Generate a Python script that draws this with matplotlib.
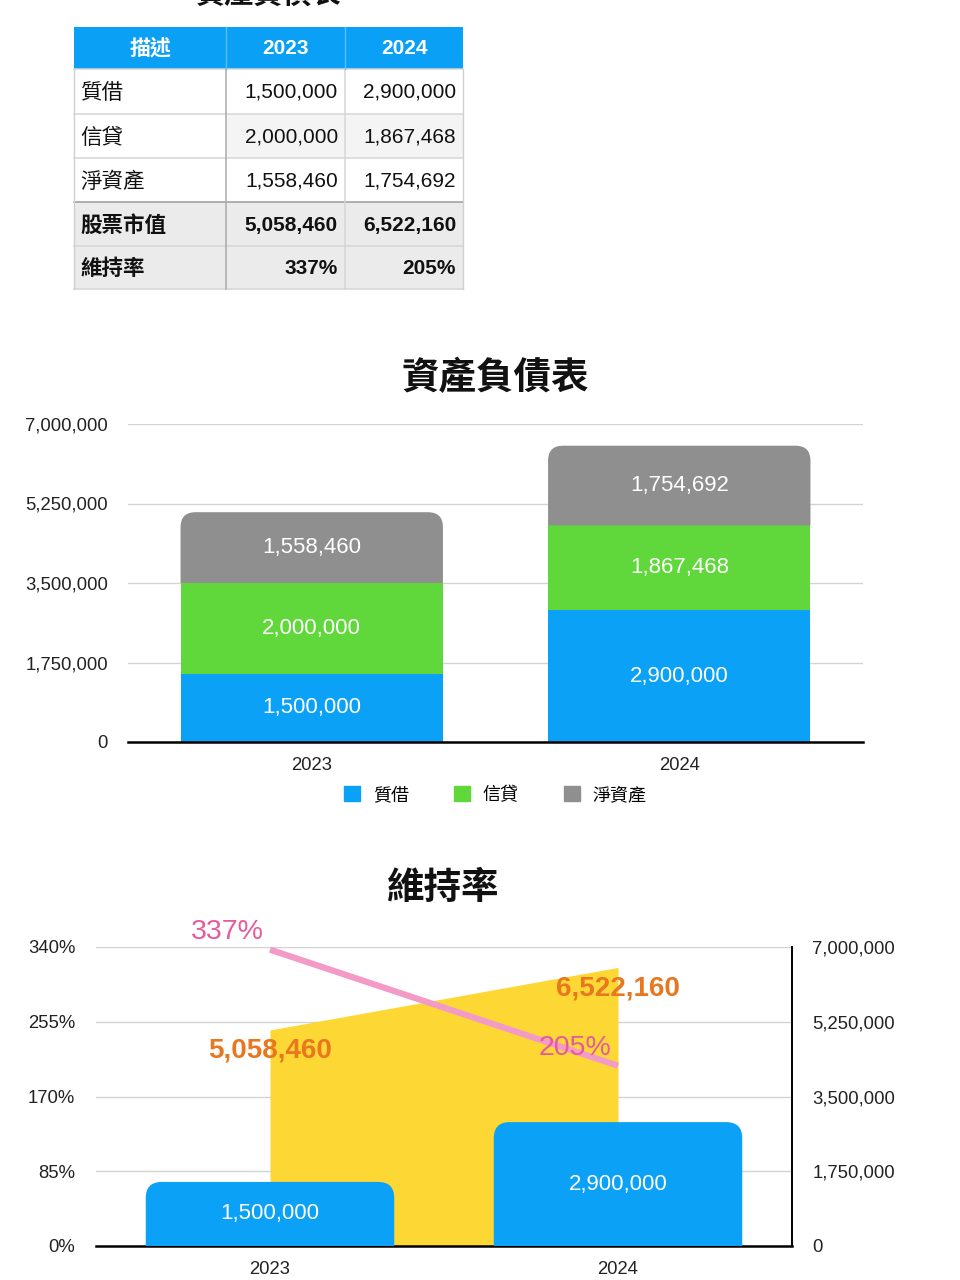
import matplotlib
matplotlib.use('Agg')
import matplotlib.pyplot as plt
from matplotlib.path import Path
from matplotlib.patches import PathPatch, Rectangle, Patch
from matplotlib.ticker import FuncFormatter, FixedLocator

plt.rcParams['font.family'] = ['Liberation Sans', 'Noto Sans CJK TC', 'DejaVu Sans']

# ---------------- data ----------------
years = ['2023', '2024']
pledge = [1500000, 2900000]          # 質借
credit = [2000000, 1867468]          # 信貸
net_assets = [1558460, 1754692]      # 淨資產
market_value = [5058460, 6522160]    # 股票市值
maint_ratio = [337, 205]             # 維持率 (%)
series_names = ['質借', '信貸', '淨資產']
table_header = ['描述', '2023', '2024']
table_labels = ['質借', '信貸', '淨資產', '股票市值', '維持率']
money_ticks = [0, 1750000, 3500000, 5250000, 7000000]
pct_ticks = [0, 85, 170, 255, 340]
chart1_title = '資產負債表'
chart2_title = '維持率'

# ---------------- style ----------------
BLUE = '#0aa1f7'
GREEN = '#60d83b'
GRAY = '#8f8f8f'
YELLOW = '#fdd835'
PINK_LINE = '#f49ac6'
PINK_TXT = '#e65a9e'
ORANGE = '#e8771f'
HDR = '#0aa0f5'
GRID = '#d3d3d3'
TICK = '#222222'

W, H = 960, 1280
fig = plt.figure(figsize=(9.6, 12.8), dpi=100)
fig.patch.set_facecolor('white')


def fig_rect(l, t, r, b):
    return [l / W, 1 - b / H, (r - l) / W, (b - t) / H]


def rounded_bar(ax, xc, width, bottom, height, color, r_px=15, zorder=3):
    p0 = ax.transData.transform((0, 0))
    p1 = ax.transData.transform((1, 1))
    rx = r_px / (p1[0] - p0[0])
    ry = r_px / (p1[1] - p0[1])
    x0, x1 = xc - width / 2, xc + width / 2
    y0, y1 = bottom, bottom + height
    verts = [(x0, y0), (x1, y0), (x1, y1 - ry), (x1, y1), (x1 - rx, y1),
             (x0 + rx, y1), (x0, y1), (x0, y1 - ry), (x0, y0)]
    codes = [Path.MOVETO, Path.LINETO, Path.LINETO, Path.CURVE3, Path.CURVE3,
             Path.LINETO, Path.CURVE3, Path.CURVE3, Path.CLOSEPOLY]
    ax.add_patch(PathPatch(Path(verts, codes), facecolor=color,
                           edgecolor='none', zorder=zorder))


money_fmt = FuncFormatter(lambda v, p: '0' if v == 0 else f'{int(v):,}')
pct_fmt = FuncFormatter(lambda v, p: f'{int(v)}%')

# ---------------- table ----------------
tax = fig.add_axes([0, 0, 1, 1])
tax.set_xlim(0, W)
tax.set_ylim(H, 0)
tax.axis('off')
tax.patch.set_alpha(0)

col_x = [74, 226, 345, 463]
row_y = [27, 69, 114, 158, 202, 246, 289]
table_values = [pledge, credit, net_assets, market_value,
                [f'{v}%' for v in maint_ratio]]

fig.text(268.5 / W, 1 + 6 / H, chart1_title, ha='center', va='center',
         fontsize=21, fontweight='bold', color='#111')

for c in range(3):
    tax.add_patch(Rectangle((col_x[c], row_y[0]), col_x[c + 1] - col_x[c],
                            row_y[1] - row_y[0], facecolor=HDR, edgecolor='none'))
    tax.text((col_x[c] + col_x[c + 1]) / 2, (row_y[0] + row_y[1]) / 2,
             table_header[c], ha='center', va='center', color='white',
             fontsize=15, fontweight='bold')

for r, lab in enumerate(table_labels):
    top, bot = row_y[r + 1], row_y[r + 2]
    bold = r >= 3
    for c in range(3):
        if r >= 3:
            fc = '#ebebeb'
        elif c > 0 and r == 1:
            fc = '#f4f4f4'
        else:
            fc = 'white'
        tax.add_patch(Rectangle((col_x[c], top), col_x[c + 1] - col_x[c],
                                bot - top, facecolor=fc, edgecolor='none'))
    yc = (top + bot) / 2 + 1
    tax.text(col_x[0] + 6, yc + 1, lab, ha='left', va='center', fontsize=15.5,
             fontweight='bold' if bold else 'normal', color='#111')
    for c in range(2):
        v = table_values[r][c]
        s = v if isinstance(v, str) else f'{v:,}'
        tax.text(col_x[c + 2] - 7, yc, s, ha='right', va='center', fontsize=15,
                 fontweight='bold' if bold else 'normal', color='#111')

for i, y in enumerate(row_y[1:], start=1):
    col = '#9c9c9c' if y == 202 else '#d6d6d6'
    tax.plot([col_x[0], col_x[-1]], [y, y], color=col, lw=1.1)
tax.plot([col_x[0], col_x[0]], [row_y[1], row_y[-1]], color='#d0d0d0', lw=1)
tax.plot([col_x[-1], col_x[-1]], [row_y[1], row_y[-1]], color='#d0d0d0', lw=1)
tax.plot([col_x[1], col_x[1]], [row_y[1], row_y[-1]], color='#aaaaaa', lw=1.1)
tax.plot([col_x[2], col_x[2]], [row_y[1], row_y[-1]], color='#d6d6d6', lw=1.1)
tax.plot([col_x[1], col_x[1]], [row_y[0], row_y[1]], color='#5cc0f8', lw=1)
tax.plot([col_x[2], col_x[2]], [row_y[0], row_y[1]], color='#5cc0f8', lw=1)

# ---------------- chart 1: stacked bars ----------------
ax1 = fig.add_axes(fig_rect(128, 424, 863, 742))
x = list(range(len(years)))
bw = 0.714
ax1.set_xlim(-0.5, 1.5)
ax1.set_ylim(0, 7000000)
ax1.yaxis.set_major_locator(FixedLocator(money_ticks))
ax1.yaxis.set_major_formatter(money_fmt)
ax1.set_xticks(x)
ax1.set_xticklabels(years)
ax1.grid(axis='y', color=GRID, lw=1)
ax1.set_axisbelow(True)
for s in ['top', 'right', 'left']:
    ax1.spines[s].set_visible(False)
ax1.spines['bottom'].set_color('black')
ax1.spines['bottom'].set_linewidth(1.8)
ax1.spines['bottom'].set_zorder(5)
ax1.tick_params(axis='both', length=0, labelsize=13.3, colors=TICK)
ax1.tick_params(axis='y', pad=14.5)
ax1.tick_params(axis='x', pad=10.5)

ax1.bar(x, pledge, width=bw, color=BLUE, zorder=3)
ax1.bar(x, credit, width=bw, bottom=pledge, color=GREEN, zorder=3)
for i in x:
    rounded_bar(ax1, i, bw, pledge[i] + credit[i], net_assets[i], GRAY)
    segs = [(0, pledge[i]), (pledge[i], credit[i]),
            (pledge[i] + credit[i], net_assets[i])]
    for b, h in segs:
        ax1.text(i, b + h / 2, f'{h:,}', ha='center', va='center',
                 color='white', fontsize=16, zorder=4)

handles = [Patch(color=c) for c in (BLUE, GREEN, GRAY)]
ax1.legend(handles, series_names, loc='center', bbox_to_anchor=(0.5, -0.167),
           ncol=3, frameon=False, fontsize=13, handlelength=0.9,
           handleheight=0.9, handletextpad=0.7, columnspacing=2.5,
           borderpad=0)
fig.text(495 / W, 1 - 379 / H, chart1_title, ha='center', va='center',
         fontsize=27, fontweight='bold', color='#111')

# ---------------- chart 2: maintenance ratio ----------------
axm = fig.add_axes(fig_rect(96, 947, 792, 1246))
axp = axm.twinx()

axm.set_xlim(-0.5, 1.5)
axm.set_ylim(0, 7000000)
axm.yaxis.tick_right()
axm.yaxis.set_label_position('right')
axm.yaxis.set_major_locator(FixedLocator(money_ticks))
axm.yaxis.set_major_formatter(money_fmt)
axm.set_xticks(x)
axm.set_xticklabels(years)
axm.grid(axis='y', color=GRID, lw=1)
axm.set_axisbelow(True)
for s in ['top', 'left']:
    axm.spines[s].set_visible(False)
axm.spines['bottom'].set_color('black')
axm.spines['bottom'].set_linewidth(1.8)
axm.spines['right'].set_color('black')
axm.spines['right'].set_linewidth(1.4)
axm.tick_params(axis='both', length=0, labelsize=13.3, colors=TICK)
axm.tick_params(axis='y', pad=14.5)
axm.tick_params(axis='x', pad=10.5)

axm.fill_between(x, market_value, 0, color=YELLOW, lw=0, zorder=1)
for i in x:
    rounded_bar(axm, i, bw, 0, pledge[i], BLUE, r_px=16)
    axm.text(i, pledge[i] / 2, f'{pledge[i]:,}', ha='center', va='center',
             color='white', fontsize=16, zorder=4)
    axm.annotate(f'{market_value[i]:,}', (i, market_value[i]),
                 xytext=(0, -15), textcoords='offset points', ha='center',
                 va='center', color=ORANGE, fontsize=20, fontweight='bold',
                 zorder=4)

axp.set_ylim(0, 340)
axp.yaxis.tick_left()
axp.yaxis.set_label_position('left')
axp.yaxis.set_major_locator(FixedLocator(pct_ticks))
axp.yaxis.set_major_formatter(pct_fmt)
for s in axp.spines.values():
    s.set_visible(False)
axp.tick_params(axis='y', length=0, labelsize=13.3, colors=TICK, pad=15)
axp.plot(x, maint_ratio, color=PINK_LINE, lw=4.5, solid_capstyle='butt',
         zorder=3)
for i in x:
    axp.annotate(f'{maint_ratio[i]}%', (i, maint_ratio[i]), xytext=(-31, 12.5),
                 textcoords='offset points', ha='center', va='center',
                 color=PINK_TXT, fontsize=20.5, zorder=4, annotation_clip=False)

fig.text(443 / W, 1 - 889 / H, chart2_title, ha='center', va='center',
         fontsize=27, fontweight='bold', color='#111')

fig.savefig('out.png', dpi=100, facecolor='white')
